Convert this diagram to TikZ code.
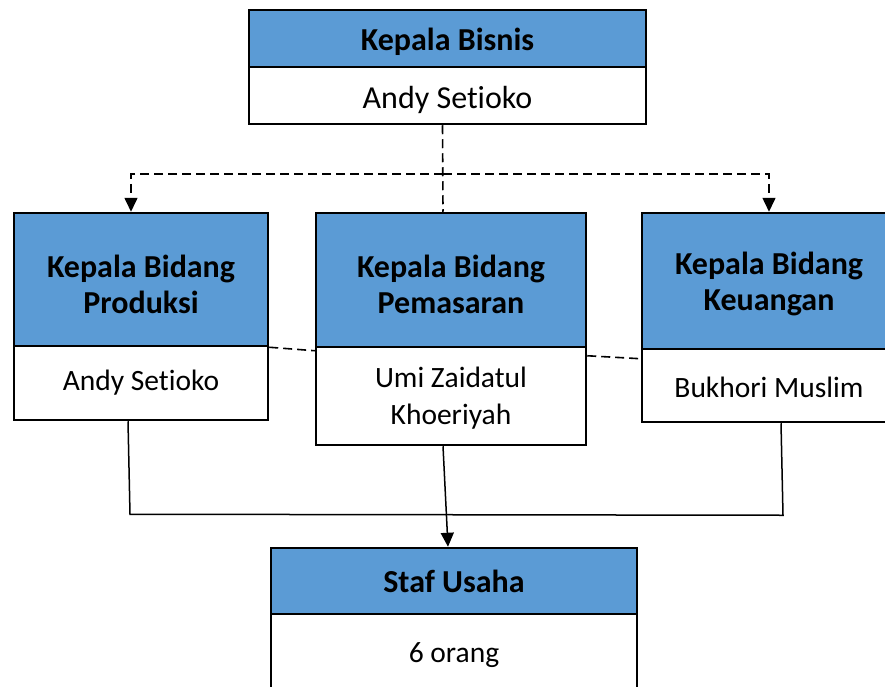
\documentclass[tikz,border=0pt]{standalone}
\usepackage{fontspec}
\setmainfont[Ligatures=NoCommon]{Carlito}
\usetikzlibrary{arrows.meta,calc}
\definecolor{hdr}{HTML}{5B9BD5}
\tikzset{
  hbox/.style={draw=black,fill=hdr,line width=2.5pt,rectangle,inner sep=0pt,align=center,
    font=\fontsize{32}{36}\selectfont\bfseries},
  bbox/.style={draw=black,fill=white,line width=2.5pt,rectangle,inner sep=0pt,align=center,
    font=\fontsize{29.5}{37}\selectfont},
  dline/.style={line width=1.6pt,dash pattern=on 9pt off 5pt},
  sline/.style={line width=1.5pt},
  tip/.style={-{Triangle[length=14pt,width=13pt]}}
}
\begin{document}
\begin{tikzpicture}[x=1pt,y=-1pt]
\clip (0,0) rectangle (885,687);
\fill[white] (0,0) rectangle (885,687);
% top
\node[hbox,minimum width=397,minimum height=57] (toph) at (447.5,38.5) {};
\node[font=\fontsize{32}{36}\selectfont\bfseries] (tophn) at (447.5,42) {Kepala Bisnis};
\node[bbox,minimum width=397,minimum height=57] (topb) at (447.5,95.5) {};
\node[font=\fontsize{32}{36}\selectfont] (topbn) at (447.5,100) {Andy Setioko};
% left
\node[hbox,minimum width=254,minimum height=133] (lefth) at (141,279.5) {};
\node[font=\fontsize{32}{36}\selectfont\bfseries,align=center] (lefthn) at (141,284) {Kepala Bidang\\Produksi};
\node[bbox,minimum width=254,minimum height=74] (leftb) at (141,383) {Andy Setioko};
% middle
\node[hbox,minimum width=270,minimum height=134] (midh) at (451,280) {};
\node[font=\fontsize{32}{36}\selectfont\bfseries,align=center] (midhn) at (451,284) {Kepala Bidang\\Pemasaran};
\node[bbox,minimum width=270,minimum height=98] (midb) at (451,396) {};
\node[font=\fontsize{29.5}{37}\selectfont,align=center] (midbn) at (451,398) {Umi Zaidatul\\Khoeriyah};
% right
\node[hbox,minimum width=254,minimum height=136] (righth) at (769,281) {};
\node[font=\fontsize{32}{36}\selectfont\bfseries,align=center] (righthn) at (769,284) {Kepala Bidang\\Keuangan};
\node[bbox,minimum width=254,minimum height=73] (rightb) at (769,385.5) {};
\node[font=\fontsize{29.5}{37}\selectfont] (rightbn) at (769,387) {Bukhori Muslim};
% staf
\node[hbox,minimum width=366,minimum height=66] (stafh) at (454,581) {Staf Usaha};
\node[bbox,minimum width=366,minimum height=86] (stafb) at (454,657) {};
\node[font=\fontsize{29.5}{37}\selectfont] (stafn) at (454,655) {6 orang};
% dashed connectors
\coordinate (bus) at (443,174);
\draw[dline] ($(topb.south)+(-5,0)$) -- ($(midh.north)+(-8,0)$);
\draw[dline,tip] (bus) -| ($(lefth.north)+(-10,0)$);
\draw[dline,tip] (bus) -| (righth.north);
\draw[dline] (lefth.south east) -- ($(midb.north west)+(0,5)$);
\draw[dline] ($(midb.north east)+(0,10)$) -- ($(rightb.north west)+(0,11)$);
% solid connectors
\draw[sline] ($(leftb.south)+(-13,0)$) -- ($(leftb.south)+(-11,93)$) -- ($(rightb.south)+(14,92)$) -- ($(rightb.south)+(12,0)$);
\draw[sline,tip] ($(midb.south)+(-8,0)$) -- ($(stafh.north)+(-6,0)$);
\end{tikzpicture}
\end{document}
